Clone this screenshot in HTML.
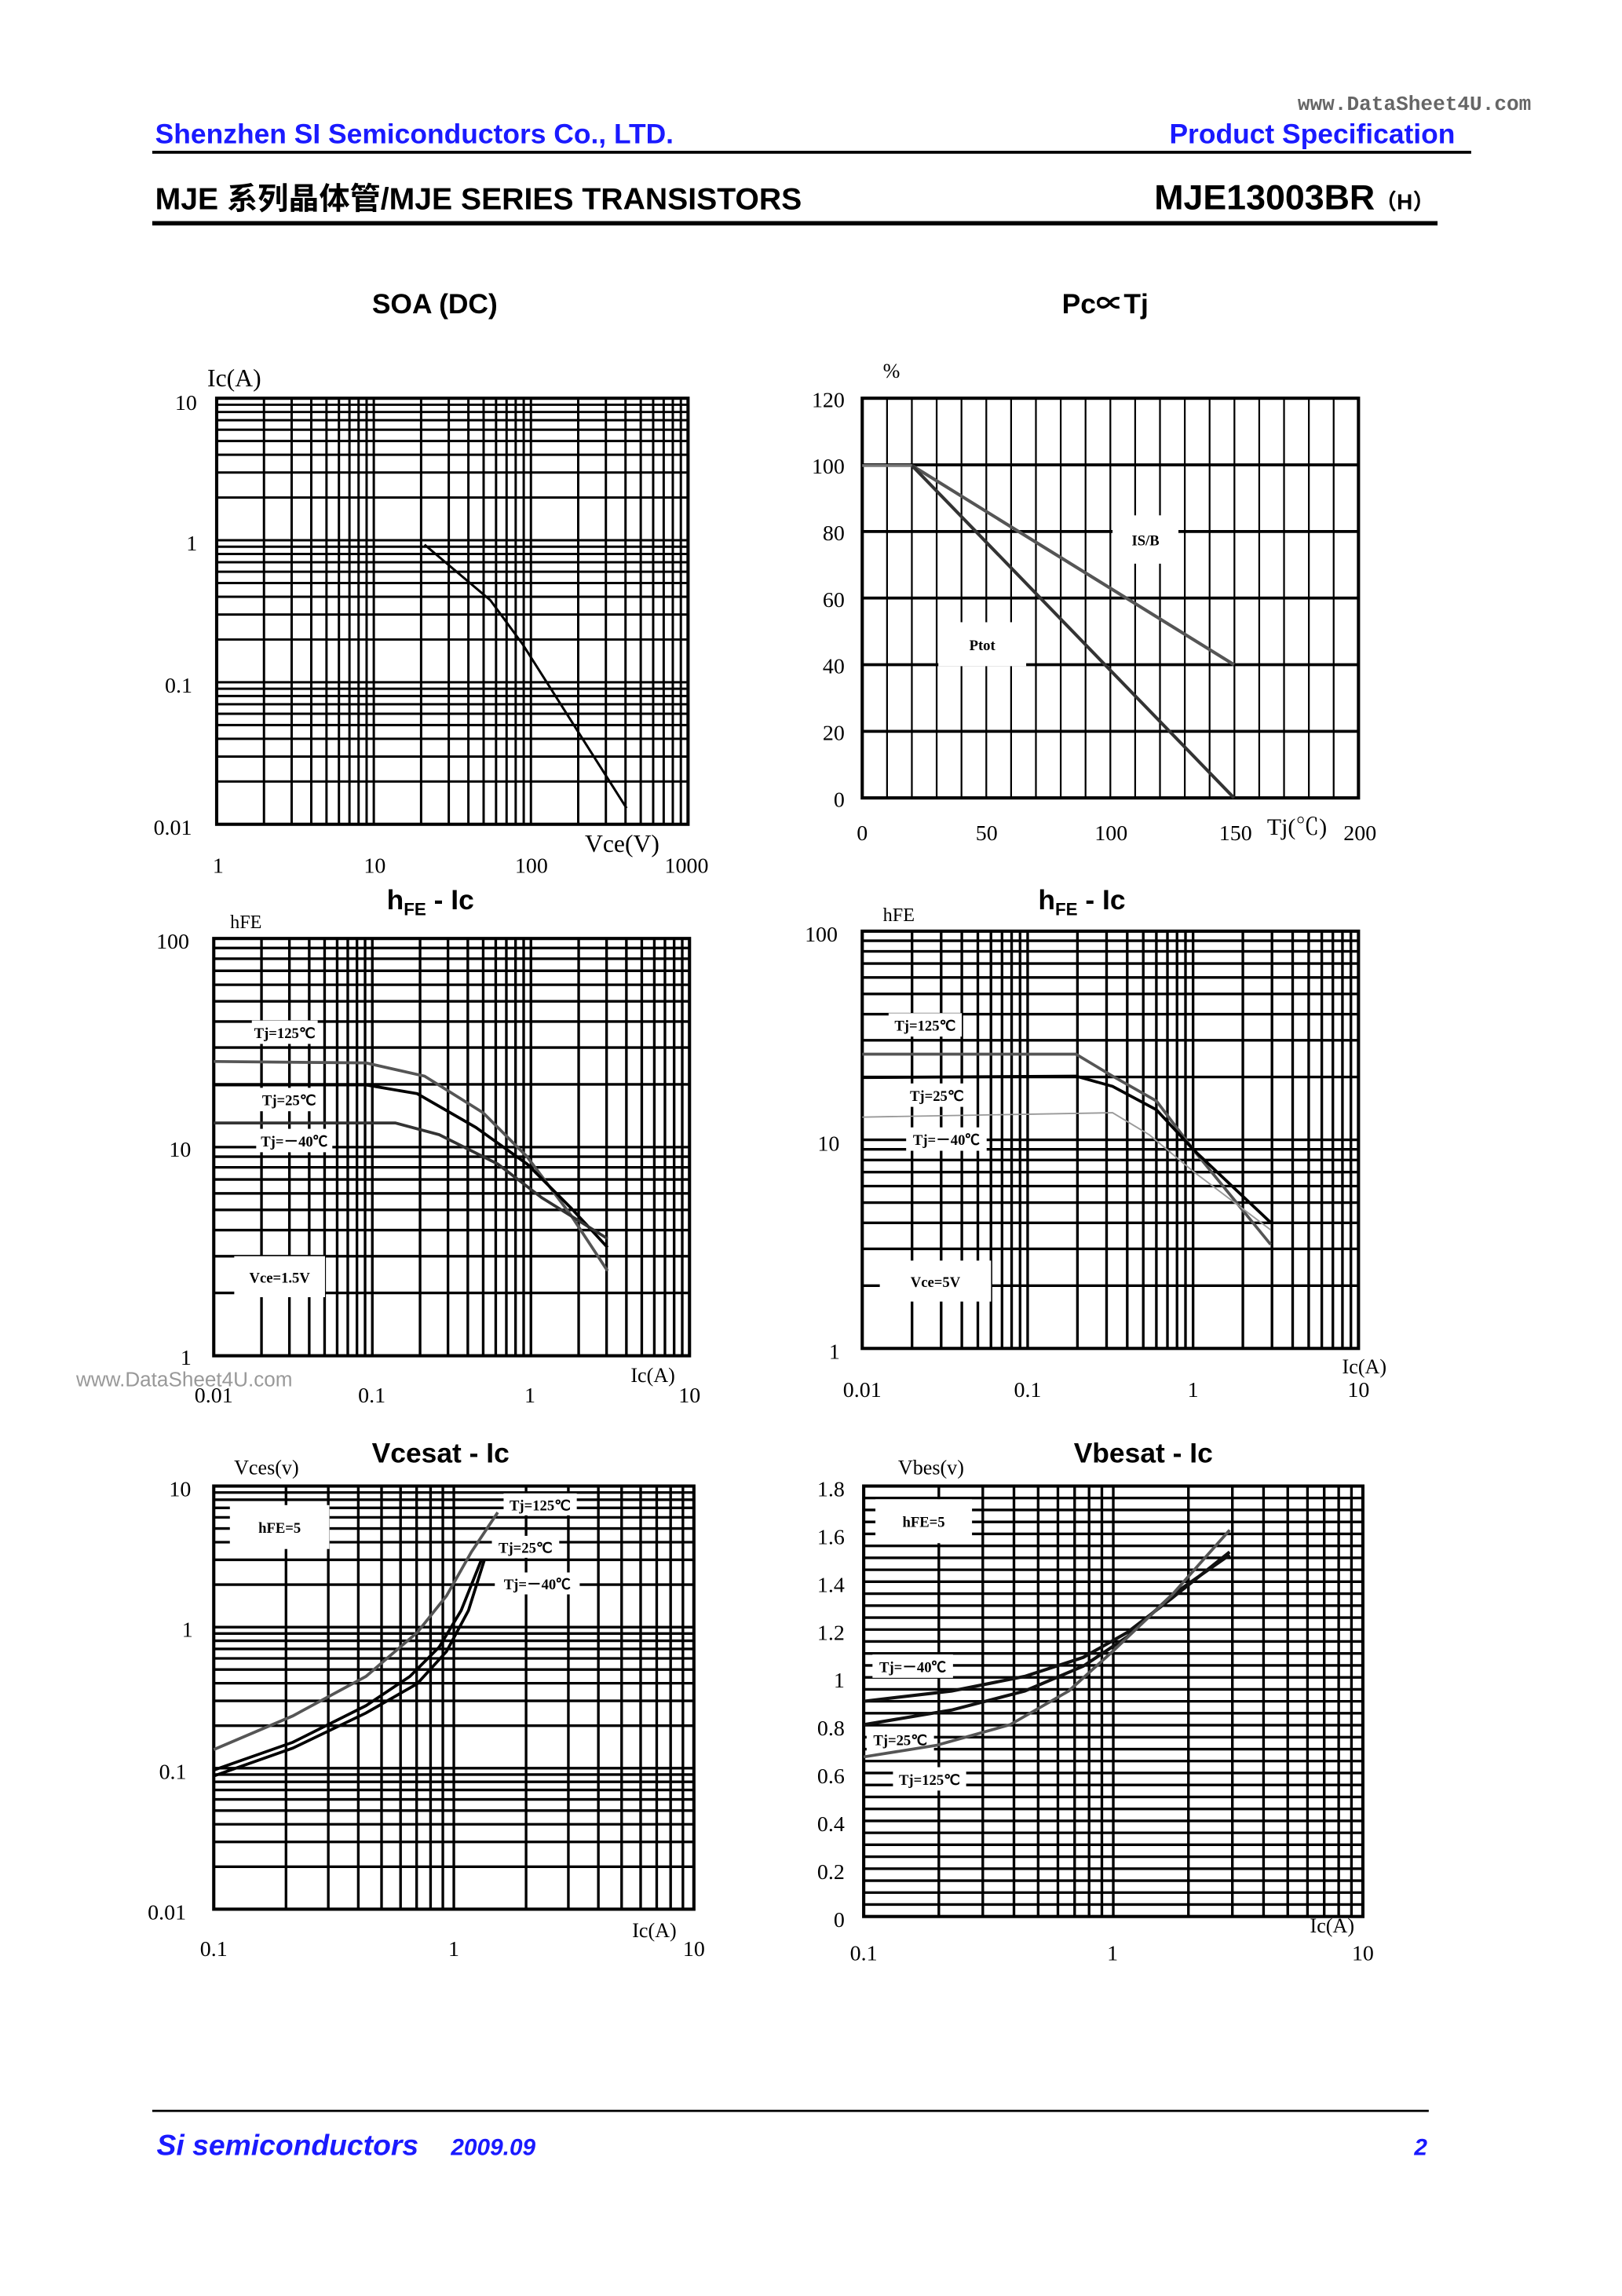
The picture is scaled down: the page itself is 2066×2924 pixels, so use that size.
<!DOCTYPE html><html><head><meta charset="utf-8"><style>
html,body{margin:0;padding:0;background:#fff}
svg{display:block}
.t{font-family:"Liberation Serif","Noto Serif CJK SC",serif;font-size:15px;fill:#000}
.s{font-family:"Liberation Sans","Noto Sans CJK SC",sans-serif;font-weight:bold}
.lb{font-family:"Liberation Serif",serif;font-size:10px;font-weight:bold}
</style></head><body>
<svg id="g" width="2066" height="2924" viewBox="0 0 1108 1568.2" xmlns="http://www.w3.org/2000/svg">
<text x="1046" y="75" text-anchor="end" class="s" style="font-size:14px;fill:#666;font-family:'Liberation Mono',monospace">www.DataSheet4U.com</text>
<text x="106" y="98" class="s" style="font-size:19px;fill:#1a1aff">Shenzhen SI Semiconductors Co., LTD.</text>
<text x="994" y="98" text-anchor="end" class="s" style="font-size:19px;fill:#1a1aff">Product Specification</text>
<rect x="104" y="103" width="901" height="2" fill="#000"/>
<text x="106" y="143" class="s" style="font-size:21px">MJE 系列晶体管/MJE SERIES TRANSISTORS</text>
<text x="980" y="143" text-anchor="end" class="s" style="font-size:24px">MJE13003BR<tspan style="font-size:15px">（H）</tspan></text>
<rect x="104" y="151" width="878" height="3" fill="#000"/>
<text x="297" y="214" text-anchor="middle" class="s" style="font-size:19px">SOA (DC)</text>
<text x="755" y="214" text-anchor="middle" class="s" style="font-size:19px">Pc∝Tj</text>
<text x="294" y="621" text-anchor="middle" class="s" style="font-size:19px">h<tspan style="font-size:12px" dy="4">FE</tspan><tspan dy="-4"> - Ic</tspan></text>
<text x="739" y="621" text-anchor="middle" class="s" style="font-size:19px">h<tspan style="font-size:12px" dy="4">FE</tspan><tspan dy="-4"> - Ic</tspan></text>
<text x="301" y="999" text-anchor="middle" class="s" style="font-size:19px">Vcesat - Ic</text>
<text x="781" y="999" text-anchor="middle" class="s" style="font-size:19px">Vbesat - Ic</text>
<text x="52" y="947" class="s" style="font-size:14px;fill:#999;font-weight:normal">www.DataSheet4U.com</text>
<rect x="104" y="1441" width="872" height="1.5" fill="#000"/>
<text x="107" y="1472" class="s" style="font-size:20px;fill:#1a1aff;font-style:italic">Si semiconductors</text>
<text x="308" y="1472" class="s" style="font-size:16px;fill:#1a1aff;font-style:italic">2009.09</text>
<text x="975" y="1472" text-anchor="end" class="s" style="font-size:16px;fill:#1a1aff;font-style:italic">2</text>
</svg>
<script>
var S=document.getElementById('g'),ns='http://www.w3.org/2000/svg';
function el(t,a,txt){var e=document.createElementNS(ns,t);for(var k in a)e.setAttribute(k,a[k]);if(txt!=null)e.textContent=txt;S.appendChild(e);return e;}
function L(x1,y1,x2,y2,w,c){el('line',{x1:x1,y1:y1,x2:x2,y2:y2,stroke:c||'#000','stroke-width':w||1.3});}
function logs(a,b,n){var r=[];for(var d=0;d<n;d++)for(var k=1;k<=9;k++)r.push(a+(b-a)*(d+Math.log10(k))/n);r.push(b);return r;}
function box(x0,y0,x1,y1){el('rect',{x:x0,y:y0,width:x1-x0,height:y1-y0,fill:'none',stroke:'#000','stroke-width':2.2});}
function P(pts,c,w){el('polyline',{points:pts,fill:'none',stroke:c,'stroke-width':w||2});}
function T(x,y,s,a,sz){el('text',{x:x,y:y,'class':'t','text-anchor':a||'middle',style:sz?'font-size:'+sz+'px':''},s);}
function lab(x,y,w,h,s){el('rect',{x:x,y:y,width:w,height:h,fill:'#fff'});el('text',{x:x+w/2,y:y+h/2+4,'class':'lb','text-anchor':'middle'},s);}
// SOA
logs(148,470,3).forEach(function(x){L(x,272,x,563,1.6);});
logs(563,272,3).forEach(function(y){L(148,y,470,y,1.6);});
box(148,272,470,563);
P('290,372 335,410 357,440 428,552','#000',1.6);
T(160,264,'Ic(A)','middle',17);T(127,280,'10');T(131,376,'1');T(122,473,'0.1');T(118,570,'0.01');
T(149,596,'1');T(256,596,'10');T(363,596,'100');T(469,596,'1000');T(425,582,'Vce(V)','middle',17);
// Pc-Tj
for(var i=0;i<=20;i++){var x=589+i*16.95;L(x,272,x,545,1.2);}
for(var i=0;i<=6;i++){var y=272+i*45.5;L(589,y,928,y,2);}
box(589,272,928,545);
L(589,318,623,318,2,'#777');
P('623,318 843,454','#555',2.2);P('623,318 843,545','#333',2.2);
lab(760,352,45,33,'IS/B');lab(641,425,60,30,'Ptot');
T(609,258,'%','middle',14);
[120,100,80,60,40,20,0].forEach(function(v,i){T(577,278+i*45.5,v,'end');});
[0,50,100,150,200].forEach(function(v,i){T(589+i*85,574,v);});T(886,570,'Tj(℃)','middle',16);
// hFE left
logs(146,471,3).forEach(function(x){L(x,641,x,926,1.8);});
logs(926,641,2).forEach(function(y){L(146,y,471,y,1.8);});
box(146,641,471,926);
lab(160,858,62,28,'Vce=1.5V');lab(172,697,45,16,'Tj=125℃');lab(175,743,45,16,'Tj=25℃');lab(175,771,52,16,'Tj=－40℃');
P('146,725 250,726 290,735 330,760 360,790 390,830 415,868','#555',2);
P('146,741 250,741 285,747 325,770 360,795 390,825 415,852','#000',2);
P('146,767 270,767 300,775 340,795 370,818 415,846','#333',2);
T(168,634,'hFE','middle',13);T(118,648,'100');T(123,790,'10');T(127,932,'1');
T(146,958,'0.01');T(254,958,'0.1');T(362,958,'1');T(471,958,'10');T(446,944,'Ic(A)','middle',14);
// hFE right
logs(589,928,3).forEach(function(x){L(x,636,x,921,1.8);});
logs(921,636,2).forEach(function(y){L(589,y,928,y,1.8);});
box(589,636,928,921);
lab(601,861,76,28,'Vce=5V');lab(607,692,50,16,'Tj=125℃');lab(619,740,42,16,'Tj=25℃');lab(619,770,55,16,'Tj=－40℃');
P('589,720 735,720 760,735 790,752 815,785 868,850','#555',2);
P('589,736 735,735 760,742 790,758 815,785 868,835','#000',2);
P('589,763 760,760 785,775 815,800 868,840','#999',1);
T(614,629,'hFE','middle',13);T(561,643,'100');T(566,786,'10');T(570,928,'1');
T(589,954,'0.01');T(702,954,'0.1');T(815,954,'1');T(928,954,'10');T(932,938,'Ic(A)','middle',14);
// Vcesat
logs(146,474,2).forEach(function(x){L(x,1015,x,1304,1.8);});
logs(1304,1015,3).forEach(function(y){L(146,y,474,y,1.8);});
box(146,1015,474,1304);
lab(157,1028,68,30,'hFE=5');lab(344,1020,50,15,'Tj=125℃');lab(336,1049,46,15,'Tj=25℃');lab(338,1074,58,15,'Tj=－40℃');
P('146,1195 200,1172 250,1145 285,1115 305,1090 322,1060 340,1033','#555',2);
P('146,1209 200,1190 250,1165 280,1145 300,1125 315,1100 329,1065','#000',2);
P('146,1213 200,1194 250,1170 285,1150 305,1128 320,1100 331,1065','#000',2);
T(182,1007,'Vces(v)','middle',14);T(123,1022,'10');T(128,1118,'1');T(118,1215,'0.1');T(114,1311,'0.01');
T(146,1336,'0.1');T(310,1336,'1');T(474,1336,'10');T(447,1323,'Ic(A)','middle',14);
// Vbesat
logs(590,931,2).forEach(function(x){L(x,1015,x,1309,1.8);});
for(var i=0;i<=36;i++){var y=1015+i*294/36;L(590,y,931,y,1.8);}
box(590,1015,931,1309);
lab(598,1024,66,30,'hFE=5');lab(596,1130,55,16,'Tj=－40℃');lab(592,1180,46,16,'Tj=25℃');lab(610,1207,50,16,'Tj=125℃');
P('590,1162 650,1155 700,1145 740,1132 770,1115 800,1092 840,1060','#111',2.2);
P('590,1178 650,1168 700,1155 740,1138 770,1118 800,1090 840,1062','#111',2.2);
P('590,1200 640,1192 690,1178 730,1155 760,1128 800,1090 840,1045','#555',2);
T(636,1007,'Vbes(v)','middle',14);
['1.8','1.6','1.4','1.2','1','0.8','0.6','0.4','0.2','0'].forEach(function(v,i){T(577,1022+i*32.67,v,'end');});
T(590,1339,'0.1');T(760,1339,'1');T(931,1339,'10');T(910,1320,'Ic(A)','middle',14);
</script>
</body></html>
